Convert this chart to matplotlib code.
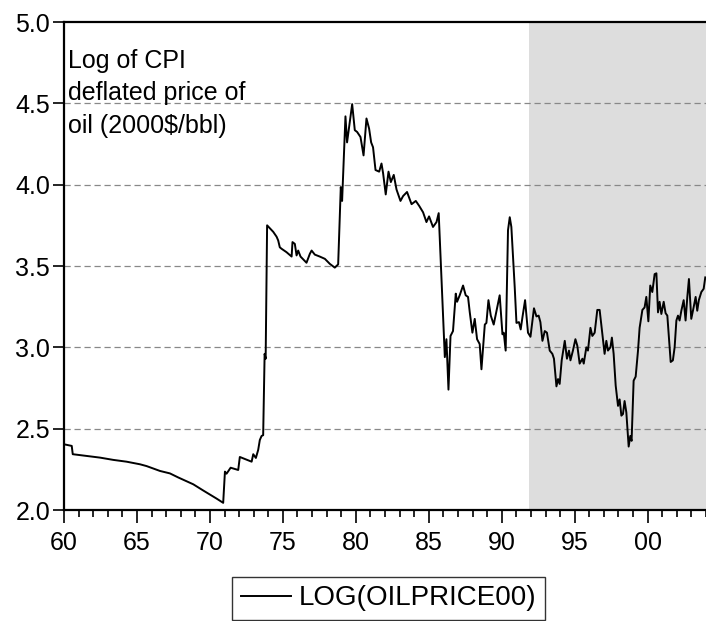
import matplotlib
matplotlib.use("Agg")
import matplotlib.pyplot as plt
from matplotlib.ticker import FixedLocator, MultipleLocator

plt.rcParams['font.family'] = ['Liberation Sans', 'DejaVu Sans']

years = [
    1960.00, 1960.53, 1960.60, 1961.55, 1962.47, 1963.38, 1964.29, 1965.21,
    1965.66, 1966.58, 1967.26, 1967.83, 1968.86, 1969.54, 1970.46, 1970.91,
    1971.03, 1971.14, 1971.42, 1971.94, 1972.05, 1972.86, 1972.97, 1973.15,
    1973.31, 1973.42, 1973.54, 1973.65, 1973.75, 1973.82, 1973.92, 1974.34,
    1974.57, 1974.68, 1974.79, 1974.91, 1975.25, 1975.60, 1975.66, 1975.82,
    1975.94, 1976.05, 1976.21, 1976.62, 1976.85, 1976.97, 1977.19, 1977.53,
    1977.88, 1978.22, 1978.56, 1978.79, 1978.97, 1979.06, 1979.29, 1979.40,
    1979.54, 1979.75, 1979.93, 1980.09, 1980.32, 1980.53, 1980.73, 1980.91,
    1981.05, 1981.18, 1981.35, 1981.60, 1981.76, 1981.87, 1982.05, 1982.24,
    1982.40, 1982.60, 1982.79, 1983.06, 1983.24, 1983.51, 1983.82, 1984.11,
    1984.34, 1984.61, 1984.84, 1985.02, 1985.29, 1985.53, 1985.68, 1986.10,
    1986.21, 1986.35, 1986.49, 1986.66, 1986.85, 1986.94, 1987.12, 1987.35,
    1987.53, 1987.69, 1987.81, 1987.99, 1988.15, 1988.31, 1988.49, 1988.61,
    1988.84, 1988.95, 1989.09, 1989.25, 1989.45, 1989.64, 1989.86, 1990.05,
    1990.14, 1990.27, 1990.43, 1990.55, 1990.66, 1990.89, 1991.01, 1991.18,
    1991.30, 1991.42, 1991.60, 1991.80, 1991.97, 1992.21, 1992.38, 1992.53,
    1992.65, 1992.79, 1992.95, 1993.10, 1993.29, 1993.47, 1993.58, 1993.75,
    1993.86, 1993.97, 1994.11, 1994.32, 1994.47, 1994.61, 1994.71, 1994.88,
    1995.05, 1995.18, 1995.34, 1995.53, 1995.62, 1995.80, 1995.91, 1996.08,
    1996.21, 1996.37, 1996.55, 1996.71, 1996.90, 1997.05, 1997.17, 1997.28,
    1997.45, 1997.55, 1997.67, 1997.81, 1997.97, 1998.08, 1998.20, 1998.31,
    1998.42, 1998.54, 1998.70, 1998.81, 1998.90, 1999.04, 1999.18, 1999.34,
    1999.45, 1999.64, 1999.79, 1999.91, 2000.05, 2000.18, 2000.32, 2000.48,
    2000.60, 2000.71, 2000.82, 2000.94, 2001.10, 2001.23, 2001.35, 2001.46,
    2001.58, 2001.73, 2001.85, 2001.97, 2002.08, 2002.19, 2002.31, 2002.47,
    2002.60, 2002.72, 2002.83, 2002.99, 2003.15, 2003.29, 2003.40, 2003.51,
    2003.68, 2003.84, 2003.95,
]
log_price = [
    2.404, 2.394, 2.343, 2.332, 2.322, 2.308, 2.297, 2.281,
    2.270, 2.240, 2.225, 2.200, 2.158, 2.120, 2.070, 2.044,
    2.236, 2.223, 2.260, 2.246, 2.326, 2.297, 2.343, 2.320,
    2.370, 2.430, 2.455, 2.460, 2.960, 2.930, 3.750, 3.710,
    3.680, 3.657, 3.615, 3.606, 3.585, 3.558, 3.647, 3.636,
    3.565, 3.595, 3.558, 3.520, 3.575, 3.595, 3.570, 3.558,
    3.544, 3.513, 3.490, 3.510, 3.985, 3.900, 4.420, 4.260,
    4.355, 4.495, 4.335, 4.324, 4.293, 4.180, 4.407, 4.345,
    4.260, 4.230, 4.090, 4.080, 4.130, 4.070, 3.940, 4.080,
    4.016, 4.060, 3.970, 3.900, 3.930, 3.955, 3.880, 3.900,
    3.870, 3.830, 3.770, 3.805, 3.740, 3.770, 3.825, 2.940,
    3.050, 2.740, 3.070, 3.100, 3.330, 3.280, 3.320, 3.380,
    3.320, 3.310, 3.215, 3.090, 3.175, 3.050, 3.020, 2.865,
    3.140, 3.150, 3.290, 3.195, 3.140, 3.225, 3.320, 3.080,
    3.090, 2.980, 3.720, 3.800, 3.740, 3.370, 3.150, 3.155,
    3.110, 3.185, 3.290, 3.090, 3.065, 3.240, 3.190, 3.195,
    3.155, 3.040, 3.100, 3.090, 2.980, 2.960, 2.930, 2.760,
    2.805, 2.775, 2.920, 3.040, 2.930, 2.980, 2.920, 2.980,
    3.050, 3.010, 2.900, 2.930, 2.900, 3.000, 2.980, 3.120,
    3.070, 3.090, 3.230, 3.230, 3.080, 2.960, 3.040, 2.980,
    3.000, 3.060, 2.960, 2.765, 2.640, 2.680, 2.580, 2.590,
    2.670, 2.600, 2.390, 2.455, 2.425, 2.795, 2.820, 2.980,
    3.120, 3.230, 3.245, 3.310, 3.160, 3.380, 3.340, 3.450,
    3.455, 3.215, 3.280, 3.205, 3.280, 3.210, 3.195, 3.060,
    2.910, 2.920, 3.000, 3.165, 3.195, 3.165, 3.225, 3.290,
    3.165, 3.310, 3.420, 3.175, 3.245, 3.310, 3.225, 3.290,
    3.340, 3.360, 3.430,
]
series_label = "LOG(OILPRICE00)"
note_text = "Log of CPI\ndeflated price of\noil (2000$/bbl)"
shade_start = 1991.87
x_ticks = [1960, 1965, 1970, 1975, 1980, 1985, 1990, 1995, 2000]
x_tick_labels = ["60", "65", "70", "75", "80", "85", "90", "95", "00"]
y_ticks = [2.0, 2.5, 3.0, 3.5, 4.0, 4.5, 5.0]

fig = plt.figure(figsize=(7.06, 6.21), dpi=100)
ax = fig.add_axes([64 / 706, 1 - 510 / 621, 642 / 706, 488 / 621])

# forecast-period shading
ax.axvspan(shade_start, 2004.0, color="#dddddd", lw=0, zorder=0)

# dashed horizontal grid
for yv in y_ticks[1:-1]:
    ax.axhline(yv, color="#888888", lw=0.9, linestyle=(0, (5, 3)), zorder=1)

ax.plot(years, log_price, color="black", lw=1.4, label=series_label, zorder=3)

ax.set_xlim(1960, 2004.0)
ax.set_ylim(2.0, 5.0)

ax.xaxis.set_major_locator(FixedLocator(x_ticks))
ax.set_xticklabels(x_tick_labels)
ax.xaxis.set_minor_locator(MultipleLocator(1))
ax.yaxis.set_major_locator(FixedLocator(y_ticks))
ax.set_yticklabels([f"{v:.1f}" for v in y_ticks])

ax.tick_params(axis="x", which="major", direction="out", length=9, width=1.2,
               labelsize=18, pad=6)
ax.tick_params(axis="x", which="minor", direction="out", length=5, width=1.2)
ax.tick_params(axis="y", which="major", direction="out", length=8, width=1.2,
               labelsize=18, pad=2)

for s in ["left", "bottom", "top"]:
    ax.spines[s].set_linewidth(1.6)
ax.spines["right"].set_visible(False)

ax.text(0.006, 0.945, note_text, transform=ax.transAxes, fontsize=18,
        va="top", ha="left", linespacing=1.45)

leg = fig.legend(loc="upper center", bbox_to_anchor=(388.5 / 706, 1 - 577 / 621),
                 fontsize=20, frameon=True, fancybox=False, handlelength=1.8,
                 handletextpad=0.3, borderpad=0.3, borderaxespad=0)
leg.get_frame().set_edgecolor("black")
leg.get_frame().set_linewidth(1.0)

fig.savefig("out.png", dpi=100)
